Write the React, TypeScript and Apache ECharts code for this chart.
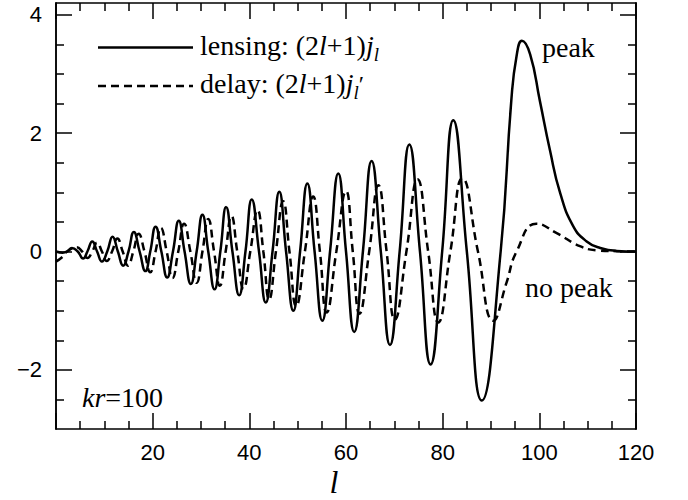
import React, { useEffect, useRef } from "react";
import * as echarts from "echarts";

// lensing: (2l+1) j_l (extrema and zero crossings)
const lensingL = [
  0, 1.4, 2.3, 3.3, 4.5, 5.6, 6.5, 7.5, 8.5, 9.5, 10.6, 11.7, 12.8, 13.9, 15.0, 16.1, 17.3, 18.5,
  19.5, 20.6, 21.8, 23.0, 24.2, 25.4, 26.6, 27.9, 29.1, 30.3, 31.5, 32.8, 34.0, 35.2, 36.5, 37.9,
  39.2, 40.5, 42.0, 43.4, 44.8, 46.2, 47.6, 49.1, 50.5, 52.0, 53.5, 55.1, 56.7, 58.4, 60.0, 61.7,
  63.5, 65.3, 67.2, 69.1, 71.1, 73.1, 75.3, 77.5, 79.9, 82.2, 85.0, 88.1, 92.0, 94.2, 95.3, 96.4,
  98.1, 100.1, 102.2, 104.3, 107.0, 109.8, 112.6, 116.0, 120.0,
];
const lensingV = [
  0, -0.02, 0, 0.06, 0, -0.12, 0, 0.17, 0, -0.17, 0, 0.25, 0, -0.24, 0, 0.33, 0, -0.33,
  0, 0.42, 0, -0.44, 0, 0.52, 0, -0.55, 0, 0.62, 0, -0.64, 0, 0.75, 0, -0.74,
  0, 0.88, 0, -0.86, 0, 1.01, 0, -1.0, 0, 1.15, 0, -1.17, 0, 1.32, 0, -1.36,
  0, 1.53, 0, -1.58, 0, 1.81, 0, -1.91, 0, 2.22, 0, -2.52, 0, 2.55, 3.31, 3.56,
  3.33, 2.55, 1.71, 0.99, 0.43, 0.17, 0.06, 0.01, 0,
];

// delay: (2l+1) j_l'
const delayL = [
  0, 1.5, 2.3, 4.3, 5.4, 6.5, 7.5, 8.5, 9.5, 10.5, 11.6, 12.7, 13.8, 14.9, 16.0, 17.1, 18.3, 19.5,
  20.6, 21.7, 22.9, 24.1, 25.3, 26.5, 27.8, 29.1, 30.3, 31.5, 32.7, 33.9, 35.1, 36.3, 37.5, 38.8,
  40.2, 41.7, 42.9, 44.1, 45.5, 47.0, 48.3, 49.7, 51.5, 53.2, 54.6, 56.0, 58.0, 60.0, 61.4, 62.8,
  64.8, 66.7, 68.4, 70.1, 72.5, 74.8, 77.0, 79.1, 81.6, 84.1, 87.3, 90.5, 93.2, 95.3, 99.4,
  103.6, 108.4, 112.0, 116.0, 120.0,
];
const delayV = [
  -0.17, -0.08, 0, 0.07, 0, -0.11, 0, 0.15, 0, -0.16, 0, 0.22, 0, -0.24, 0, 0.30, 0, -0.35,
  0, 0.40, 0, -0.45, 0, 0.47, 0, -0.53, 0, 0.55, 0, -0.58, 0, 0.60, 0, -0.63,
  0, 0.70, 0, -0.81, 0, 0.85, 0, -0.92, 0, 0.93, 0, -1.03, 0, 1.02, 0, -1.05,
  0, 1.12, 0, -1.15, 0, 1.22, 0, -1.2, 0, 1.24, 0, -1.17, -0.53, 0, 0.47,
  0.31, 0.09, 0.02, 0.005, 0,
];

const yMajorTicks = [-2, 0, 2, 4];
const yMinorTicks = [-2.5, -1.5, -1, -0.5, 0.5, 1, 1.5, 2.5, 3, 3.5];

const SERIF = "'Liberation Serif', 'Times New Roman', serif";
const SANS = "'Liberation Sans', Arial, sans-serif";

export default function App() {
  const ref = useRef<HTMLDivElement>(null);
  useEffect(() => {
    document.body.style.margin = "0";
    const chart = echarts.init(ref.current!, null, { renderer: "svg" });
    const axisLine = { show: true, onZero: false, lineStyle: { color: "#000", width: 1.5 } };
    const tickStyle = { color: "#000", width: 1.5 };
    const xBase = {
      type: "value",
      min: 0,
      max: 120,
      interval: 20,
      axisLine,
      axisTick: { show: true, inside: true, length: 16, lineStyle: tickStyle },
      minorTick: { show: true, splitNumber: 4, length: 8, lineStyle: tickStyle },
      splitLine: { show: false },
      minorSplitLine: { show: false },
    };
    const yBase = {
      type: "value",
      min: -3,
      max: 4.2,
      axisLine,
      splitLine: { show: false },
    };
    const yFmt = (v: number) => (v < 0 ? "\u2212" + Math.abs(v) : String(v));
    const sub = { fontFamily: SERIF, fontSize: 19, fontStyle: "italic", fill: "#000", verticalAlign: "bottom", lineHeight: 19 };
    const norm = { fontFamily: SERIF, fontSize: 28, fill: "#000", lineHeight: 36 };
    const ital = { fontFamily: SERIF, fontSize: 28, fontStyle: "italic", fill: "#000", lineHeight: 36 };
    const prime = { fontFamily: SERIF, fontSize: 24, fill: "#000", lineHeight: 24 };
    const rich = { n: norm, i: ital, s: sub, p: prime };

    chart.setOption({
      animation: false,
      grid: { left: 56, right: 52, top: 3, bottom: 71, containLabel: false },
      xAxis: [
        {
          ...xBase,
          position: "bottom",
          axisLabel: {
            show: true,
            color: "#000",
            fontFamily: SANS,
            fontSize: 22,
            margin: 12,
            formatter: (v: number) => (v === 0 ? "" : String(v)),
          },
        },
        { ...xBase, position: "top", axisLabel: { show: false } },
      ],
      yAxis: [
        {
          ...yBase,
          position: "left",
          axisTick: { show: true, inside: true, length: 16, customValues: yMajorTicks, lineStyle: tickStyle },
          axisLabel: {
            show: true,
            customValues: yMajorTicks,
            color: "#000",
            fontFamily: SANS,
            fontSize: 22,
            margin: 14,
            formatter: yFmt,
          },
        },
        {
          ...yBase,
          position: "left",
          axisTick: { show: true, inside: true, length: 8, customValues: yMinorTicks, lineStyle: tickStyle },
          axisLabel: { show: false },
        },
        {
          ...yBase,
          position: "right",
          axisTick: { show: true, inside: true, length: 16, customValues: yMajorTicks, lineStyle: tickStyle },
          axisLabel: { show: false },
        },
        {
          ...yBase,
          position: "right",
          axisTick: { show: true, inside: true, length: 8, customValues: yMinorTicks, lineStyle: tickStyle },
          axisLabel: { show: false },
        },
      ],
      series: [
        {
          name: "lensing",
          type: "line",
          xAxisIndex: 0,
          yAxisIndex: 0,
          data: lensingL.map((l, i) => [l, lensingV[i]]),
          smooth: true,
          showSymbol: false,
          lineStyle: { color: "#000", width: 2.5 },
        },
        {
          name: "delay",
          type: "line",
          xAxisIndex: 0,
          yAxisIndex: 0,
          data: delayL.map((l, i) => [l, delayV[i]]),
          smooth: true,
          showSymbol: false,
          lineStyle: { color: "#000", width: 2.5, type: [8, 5] },
        },
      ],
      graphic: [
        { type: "line", shape: { x1: 98, y1: 47.5, x2: 193, y2: 47.5 }, style: { stroke: "#000", lineWidth: 2.5 } },
        { type: "line", shape: { x1: 98, y1: 86, x2: 193, y2: 86 }, style: { stroke: "#000", lineWidth: 2.5, lineDash: [8, 5] } },
        {
          type: "text",
          x: 200,
          y: 45.5,
          style: { text: "{n|lensing: (2}{i|l}{n|+1)}{i|j}{s|l}", rich, verticalAlign: "middle", align: "left" },
        },
        {
          type: "text",
          x: 200,
          y: 83.5,
          style: { text: "{n|delay: (2}{i|l}{n|+1)}{i|j}{s|l}{p|\u2032}", rich, verticalAlign: "middle", align: "left" },
        },
        {
          type: "text",
          x: 542,
          y: 47,
          style: { text: "peak", fill: "#000", font: `28px ${SERIF}`, verticalAlign: "middle", align: "left" },
        },
        {
          type: "text",
          x: 525,
          y: 287,
          style: { text: "no peak", fill: "#000", font: `28px ${SERIF}`, verticalAlign: "middle", align: "left" },
        },
        {
          type: "text",
          x: 82,
          y: 397,
          style: { text: "{i|kr}{n|=100}", rich, verticalAlign: "middle", align: "left" },
        },
        {
          type: "text",
          x: 334,
          y: 482,
          style: { text: "l", fill: "#000", font: `italic 32px ${SERIF}`, verticalAlign: "middle", align: "center" },
        },
      ],
    });
    return () => chart.dispose();
  }, []);
  return <div ref={ref} style={{ width: 688, height: 500, position: "absolute", left: 0, top: 0 }} />;
}
